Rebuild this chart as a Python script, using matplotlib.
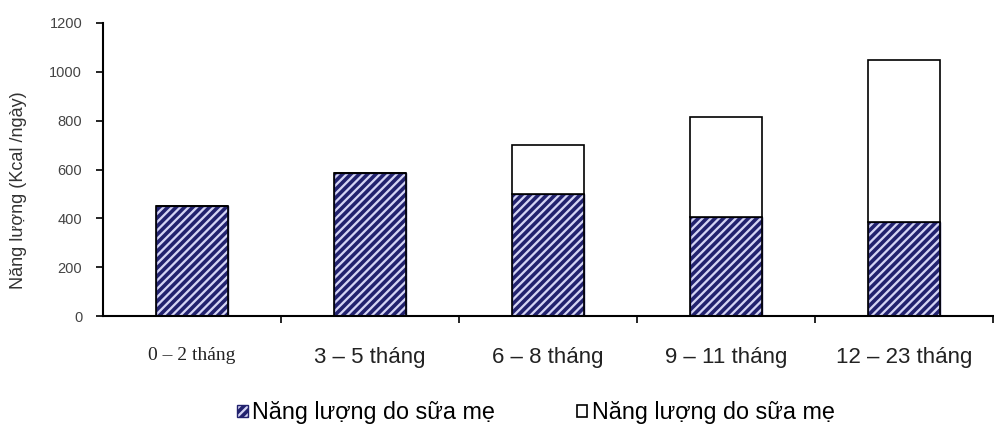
import matplotlib
matplotlib.use("Agg")
import matplotlib.pyplot as plt
import numpy as np

categories = ["0 – 2 tháng", "3 – 5 tháng", "6 – 8 tháng", "9 – 11 tháng", "12 – 23 tháng"]
breast_milk = [450, 585, 500, 405, 385]
complementary = [0, 0, 200, 410, 665]
legend_labels = ["Năng lượng do sữa mẹ", "Năng lượng do sữa mẹ"]
yticks = [0, 200, 400, 600, 800, 1000, 1200]

plt.rcParams['hatch.linewidth'] = 2.6
plt.rcParams['hatch.color'] = '#22226e'

fig = plt.figure(figsize=(9.95, 4.43), dpi=100)
ax = fig.add_axes([103/995, 1-316/443, 890/995, (316-23)/443])

x = np.arange(len(categories))
w = 0.41
b1 = ax.bar(x, breast_milk, width=w, color='#d4d4f4', edgecolor='#22226e', linewidth=1.0,
            hatch='////', label=legend_labels[0])
ax.bar(x, breast_milk, width=w, color='none', edgecolor='black', linewidth=1.2)
b2 = ax.bar(x, complementary, bottom=breast_milk, width=w, color='white', edgecolor='black',
            linewidth=1.2, label=legend_labels[1])

ax.set_xlim(-0.5, len(categories) - 0.5)
ax.set_ylim(0, 1200)
ax.set_yticks(yticks)
ax.set_yticklabels([str(v) for v in yticks], fontsize=10.5, color='#444444', family='Liberation Sans')
ax.set_xticks(x)
ax.set_xticklabels(categories, fontsize=16, family='Liberation Sans', color='#222222')
labs = ax.get_xticklabels()
labs[0].set_family('Liberation Serif')
labs[0].set_fontsize(14)
ax.tick_params(axis='x', length=0, pad=22)
ax.set_xticks(np.arange(len(categories)) + 0.5, minor=True)
ax.tick_params(axis='x', which='minor', length=5, width=1.2, direction='out')
ax.tick_params(axis='y', length=5, width=1.2, direction='out', pad=10)
for s in ['top', 'right']:
    ax.spines[s].set_visible(False)
ax.spines['left'].set_linewidth(1.5)
ax.spines['bottom'].set_linewidth(1.5)
ax.set_ylabel("Năng lượng (Kcal /ngày)", fontsize=13, family='Liberation Sans', color='#333333')
ax.yaxis.set_label_coords(-0.085, 0.43)

leg = fig.legend(handles=[b1, b2], labels=legend_labels, loc='center', bbox_to_anchor=(536/995, 1-413/443),
                 ncol=2, frameon=False, handlelength=0.45, handleheight=0.45,
                 handletextpad=0.2, columnspacing=3.5, borderpad=0.1,
                 prop={'family': 'Liberation Sans', 'size': 16.8})

fig.savefig("out.png", dpi=100)
